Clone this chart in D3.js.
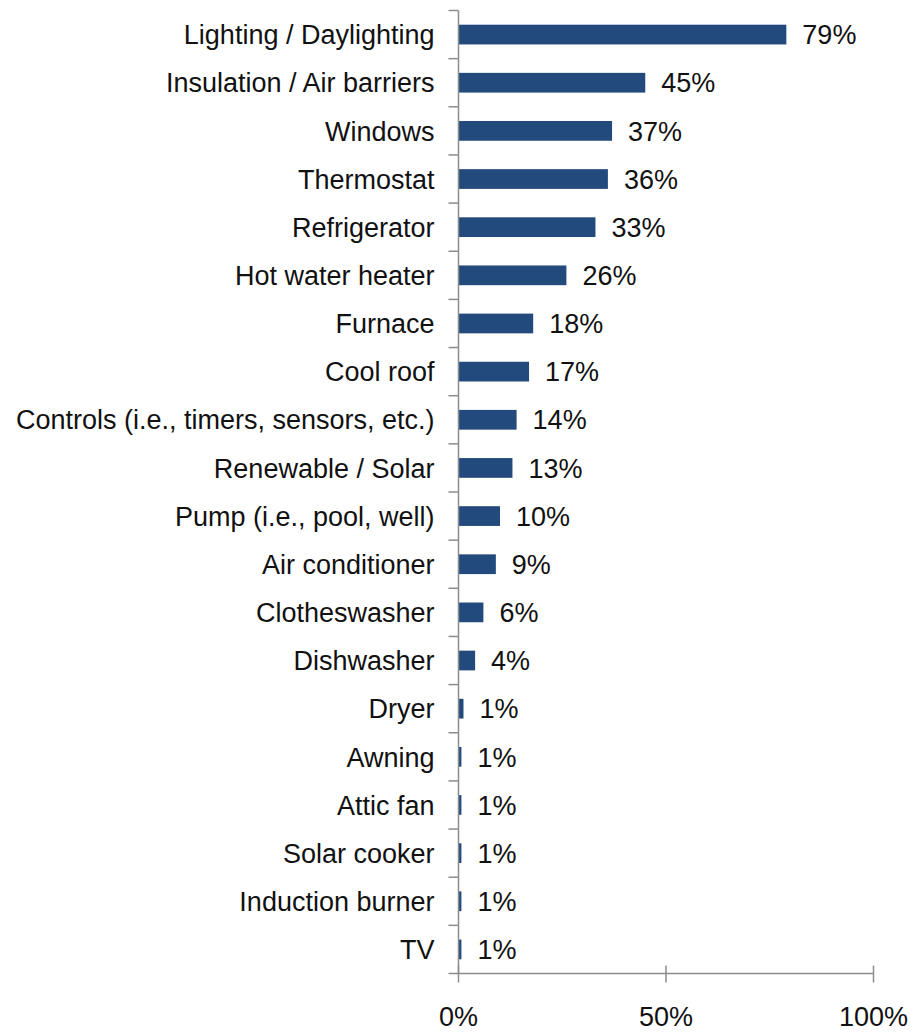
<!DOCTYPE html>
<html>
<head>
<meta charset="utf-8">
<script src="https://cdn.jsdelivr.net/npm/d3@7"></script>
<style>
  html, body { margin: 0; padding: 0; background: #fff; }
  svg { display: block; }
  text { font-family: "Liberation Sans", Arial, sans-serif; fill: #111; }
</style>
</head>
<body>
<svg id="chart" width="919" height="1034"></svg>
<script>
// Measures installed (share of respondents)
const categories = [
  "Lighting / Daylighting", "Insulation / Air barriers", "Windows", "Thermostat",
  "Refrigerator", "Hot water heater", "Furnace", "Cool roof",
  "Controls (i.e., timers, sensors, etc.)", "Renewable / Solar",
  "Pump (i.e., pool, well)", "Air conditioner", "Clotheswasher", "Dishwasher",
  "Dryer", "Awning", "Attic fan", "Solar cooker", "Induction burner", "TV"
];
const values = [0.79, 0.45, 0.37, 0.36, 0.33, 0.26, 0.18, 0.17, 0.14, 0.13,
                0.10, 0.09, 0.06, 0.04, 0.012, 0.007, 0.007, 0.007, 0.007, 0.007];
const xTicks = [0, 0.5, 1];

const svg = d3.select("#chart");
const plotLeft = 458.5, plotRight = 873.5, plotTop = 10.5, plotBottom = 973.5;
const axisColor = "#8c8c8c";
const fontSize = 27;

const x = d3.scaleLinear().domain([0, 1]).range([plotLeft, plotRight]);
const y = d3.scaleBand().domain(categories).range([plotTop, plotBottom]).paddingInner(0.59).paddingOuter(0.295);
const yb = d3.scaleBand().domain(categories).range([plotTop, plotBottom]);
const pct = d3.format(".0%");

// bars
svg.append("g").selectAll("rect").data(categories).join("rect")
  .attr("x", x(0))
  .attr("y", d => y(d))
  .attr("width", (d, i) => x(values[i]) - x(0))
  .attr("height", y.bandwidth())
  .attr("fill", "#234a7c");

// value labels
svg.append("g").selectAll("text").data(categories).join("text")
  .attr("x", (d, i) => x(values[i]) + 16)
  .attr("y", d => y(d) + y.bandwidth() / 2)
  .attr("dy", "0.36em")
  .attr("font-size", fontSize)
  .text((d, i) => pct(values[i]));

// category axis: line, boundary ticks and labels
const gy = svg.append("g");
gy.append("line").attr("x1", plotLeft).attr("x2", plotLeft).attr("y1", plotTop).attr("y2", plotBottom)
  .attr("stroke", axisColor).attr("stroke-width", 1.5);
gy.selectAll("line.tk").data(categories).join("line").attr("class", "tk")
  .attr("x1", plotLeft - 10).attr("x2", plotLeft)
  .attr("y1", d => yb(d)).attr("y2", d => yb(d))
  .attr("stroke", axisColor).attr("stroke-width", 1.5);
gy.selectAll("text").data(categories).join("text")
  .attr("x", plotLeft - 24)
  .attr("y", d => yb(d) + yb.bandwidth() / 2)
  .attr("dy", "0.36em")
  .attr("text-anchor", "end")
  .attr("font-size", fontSize)
  .text(d => d);

// value axis
const gx = svg.append("g");
gx.append("line").attr("x1", plotLeft - 10).attr("x2", plotRight).attr("y1", plotBottom).attr("y2", plotBottom)
  .attr("stroke", axisColor).attr("stroke-width", 1.5);
gx.selectAll("line.tk").data(xTicks).join("line").attr("class", "tk")
  .attr("x1", d => x(d)).attr("x2", d => x(d))
  .attr("y1", plotBottom - 8).attr("y2", plotBottom + 9)
  .attr("stroke", axisColor).attr("stroke-width", 1.5);
gx.selectAll("text").data(xTicks).join("text")
  .attr("x", d => x(d))
  .attr("y", 1026)
  .attr("text-anchor", "middle")
  .attr("font-size", fontSize)
  .text(d => pct(d));
</script>
</body>
</html>
